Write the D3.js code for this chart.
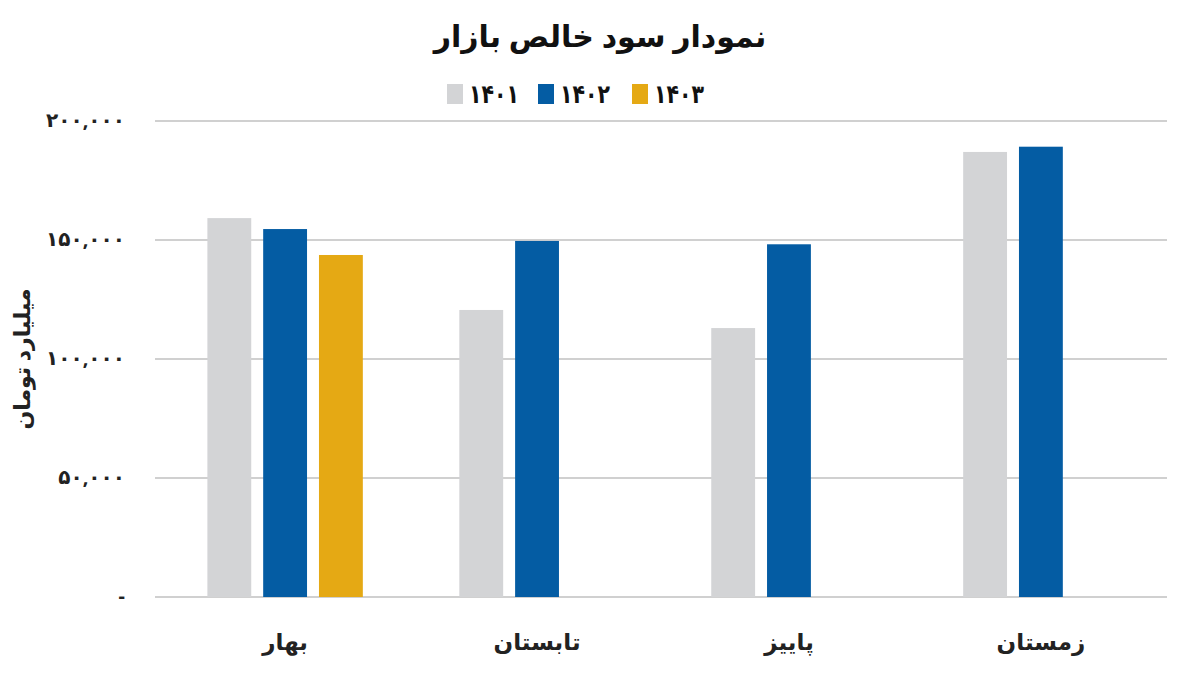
<!DOCTYPE html>
<html><head><meta charset="utf-8">
<script src="https://cdn.jsdelivr.net/npm/d3@7"></script>
<style>body{margin:0;background:#fff}text{font-family:"Noto Sans","DejaVu Sans",sans-serif}</style>
</head><body><svg id="c" width="1200" height="679"></svg>
<script>
const categories=["بهار","تابستان","پاییز","زمستان"];
const seriesNames=["۱۴۰۱","۱۴۰۲","۱۴۰۳"];
const colors=["#d3d4d6","#045ca3","#e5a914"];
const v1401=[159200,120600,113000,187000];
const v1402=[154600,149600,148200,189200];
const v1403=[143700,null,null,null];
const tickValues=[0,50000,100000,150000,200000];
const values=[v1401,v1402,v1403];
const fa=n=>n===0?"-":d3.format(",")(n).replace(/\d/g,d=>"۰۱۲۳۴۵۶۷۸۹"[d]);
const svg=d3.select("#c");
const L=155,R=1167,T=121,B=597;
const y=d3.scaleLinear().domain([0,200000]).range([B,T]);
const x=d3.scaleBand().domain(categories).range([L,R]).paddingInner(0.383).paddingOuter(0.2);
const xi=d3.scaleBand().domain(seriesNames).range([0,x.bandwidth()]).paddingInner(0.214);
svg.append("g").selectAll("line").data(tickValues).join("line")
 .attr("x1",L).attr("x2",R).attr("y1",d=>y(d)).attr("y2",d=>y(d)).attr("stroke","#d0d0d0").attr("stroke-width",2);
svg.append("g").selectAll("text").data(tickValues).join("text")
 .attr("x",125).attr("y",d=>y(d)+6).attr("text-anchor","end").attr("font-size",20).attr("font-weight","bold").attr("fill","#222").text(fa);
categories.forEach((c,i)=>{
 seriesNames.forEach((s,j)=>{
  const v=values[j][i]; if(v==null) return;
  svg.append("rect").attr("x",x(c)+xi(s)+2).attr("width",xi.bandwidth()).attr("y",y(v)).attr("height",B-y(v)).attr("fill",colors[j]);
 });
});
svg.append("g").selectAll("text").data(categories).join("text")
 .attr("x",d=>x(d)+x.bandwidth()/2+2).attr("y",650).attr("text-anchor","middle").attr("font-size",23).attr("font-weight","bold").attr("fill","#222").text(d=>d);
svg.append("text").attr("transform","translate(30,359) rotate(-90)").attr("text-anchor","middle").attr("font-size",22).attr("font-weight","bold").attr("fill","#222").text("میلیارد تومان");
svg.append("text").attr("x",600).attr("y",47).attr("text-anchor","middle").attr("font-size",30).attr("font-weight","bold").attr("fill","#111").text("نمودار سود خالص بازار");
const lx=[447,538,632];
seriesNames.forEach((s,j)=>{
 svg.append("rect").attr("x",lx[j]).attr("y",84).attr("width",16).attr("height",20).attr("fill",colors[j]);
 svg.append("text").attr("x",lx[j]+22).attr("y",103).attr("font-size",26).attr("font-weight","bold").attr("fill","#111")
  .attr("direction","ltr").attr("textLength",50).attr("lengthAdjust","spacingAndGlyphs").text(s);
});
</script></body></html>
